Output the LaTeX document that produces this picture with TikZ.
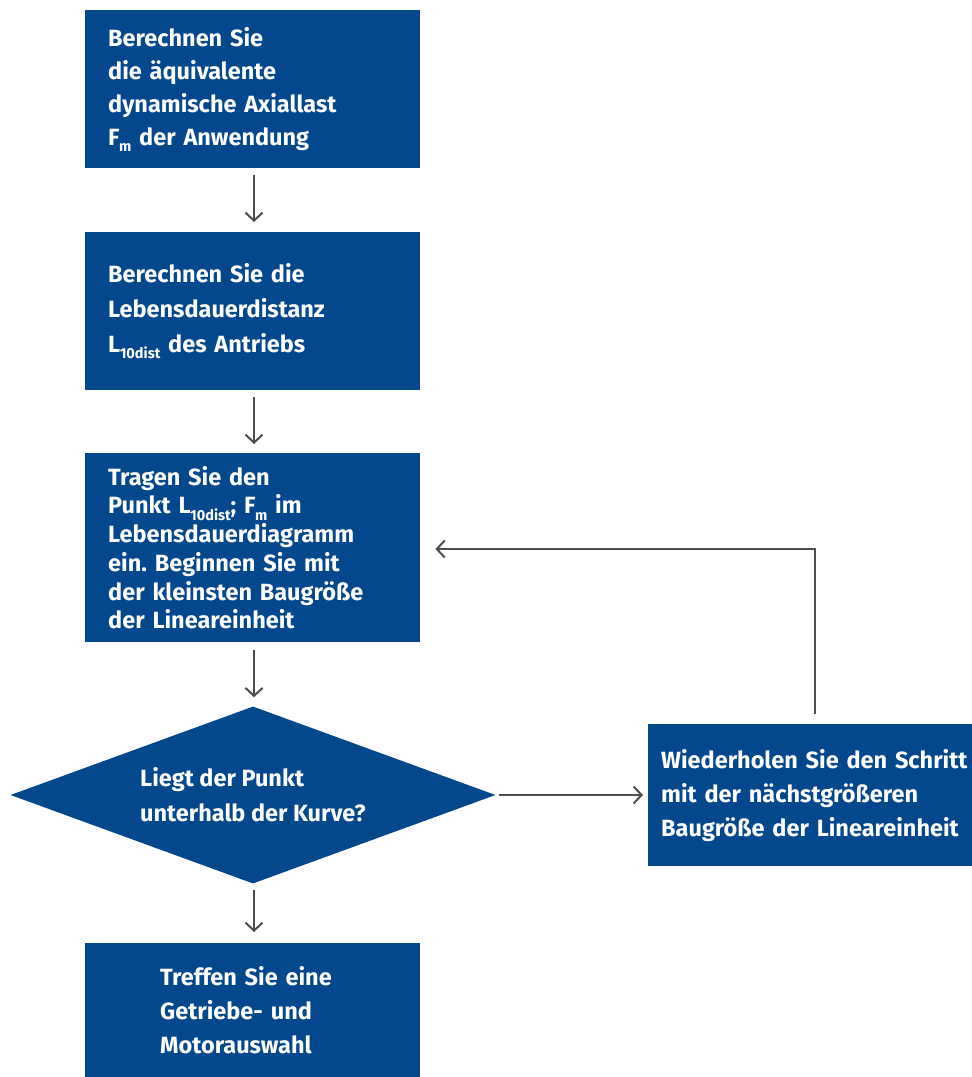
\documentclass[tikz,border=0pt]{standalone}
\usepackage{fontspec}
\setmainfont{Fira Sans}
\usetikzlibrary{arrows.meta,shapes.geometric}
\definecolor{rxblue}{HTML}{03478D}
\definecolor{rxgray}{HTML}{4D4D4D}
\newcommand{\subidx}[1]{\kern-0.5pt\raisebox{-0.5ex}{\fontsize{14.5}{14.5}\selectfont #1}}
\newcommand{\boxfont}[1]{\bfseries\fontsize{23.5}{#1}\selectfont\frenchspacing}
\begin{document}
\begin{tikzpicture}[x=1pt,y=-1pt,
  box/.style={draw=none,fill=rxblue,text=white,anchor=north west,align=left,
    font=\boxfont{33},inner ysep=0pt,inner xsep=23pt,
    text width=289pt,minimum width=335pt},
  arr/.style={draw=rxgray,line width=2pt,-{Straight Barb[length=8pt,width=17pt,line width=2pt]}}]
\useasboundingbox (0,0) rectangle (972,1077);
\node[box,minimum height=158pt] (b1) at (85,10)
  {Berechnen Sie\\die äquivalente\\dynamische Axiallast\\F\subidx{m} der Anwendung};
\node[box,minimum height=158pt,font=\boxfont{35}] (b2) at (85,232)
  {Berechnen Sie die\\Lebensdauerdistanz\\L\subidx{10dist} des Antriebs};
\node[box,minimum height=189pt,font=\boxfont{28.7}] (b3) at (85,453)
  {Tragen Sie den\\Punkt L\subidx{10dist}; F\subidx{m} im\\Lebensdauerdiagramm\\ein. Beginnen Sie mit\\der kleinsten Baugröße\\der Lineareinheit};
\node[diamond,fill=rxblue,text=white,inner sep=0pt,aspect=2.74,
  minimum width=485pt,minimum height=177pt,align=left,
  font=\boxfont{35}] (d) at (253,795)
  {Liegt der Punkt\\unterhalb der Kurve?};
\node[box,minimum height=134pt,inner xsep=75pt,text width=185pt,font=\boxfont{34}] (b4) at (85,943)
  {Treffen Sie eine\\Getriebe- und\\Motorauswahl};
\node[box,minimum height=142pt,inner xsep=13pt,text width=298pt,minimum width=324pt,font=\boxfont{34}] (rb) at (648,724)
  {Wiederholen~Sie~den~Schritt\\mit~der~nächstgrößeren\\Baugröße~der~Lineareinheit};
\coordinate (fb) at (815,549);
\draw[arr,shorten <=7pt,shorten >=10pt] (b1.south -| 254,0) -- (b2.north -| 254,0);
\draw[arr,shorten <=7pt,shorten >=9pt] (b2.south -| 254,0) -- (b3.north -| 254,0);
\draw[arr,shorten <=8pt,shorten >=9pt] (b3.south -| 254,0) -- (d.north -| 254,0);
\draw[arr,shorten <=6pt,shorten >=11pt] (d.south -| 254,0) -- (b4.north -| 254,0);
\draw[arr,shorten <=3pt,shorten >=5pt] (d.east) -- (rb.west |- d.east);
\draw[arr,shorten <=10pt,shorten >=15pt] (rb.north -| fb) -- (fb) -- (b3.east |- fb);
\end{tikzpicture}
\end{document}
